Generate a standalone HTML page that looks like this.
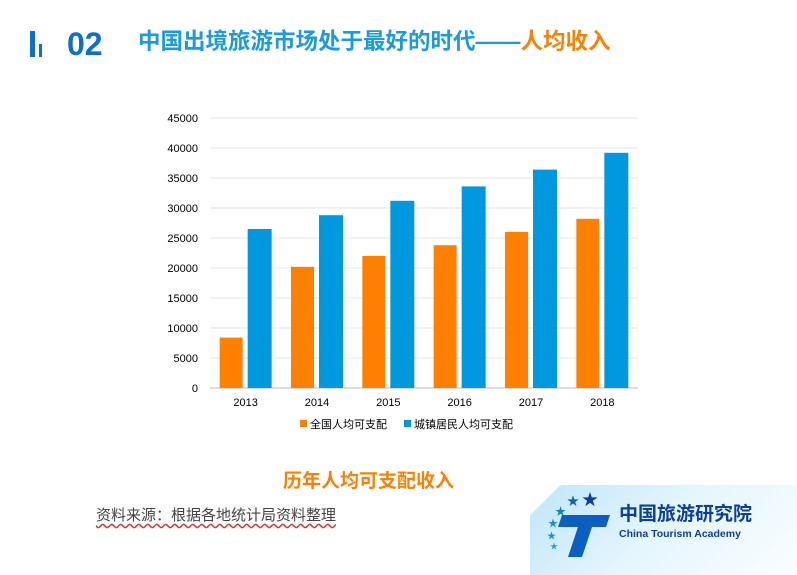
<!DOCTYPE html>
<html><head><meta charset="utf-8"><style>
body{margin:0;width:797px;height:575px;background:#fff;position:relative;overflow:hidden;font-family:"Liberation Sans","Noto Sans CJK SC",sans-serif}
.abs{position:absolute;line-height:1}
</style></head><body>
<div class="abs" style="left:30px;top:31px;width:5px;height:26px;background:#0a6fd0"></div>
<div class="abs" style="left:39px;top:44px;width:3px;height:13px;background:#0a6fd0"></div>
<div class="abs" style="left:67px;top:28px;font-size:32px;font-weight:bold;color:#0a6fd0">02</div>
<div class="abs" style="left:138px;top:31px;font-size:22.5px;font-weight:bold;color:#1a9be0;white-space:nowrap">中国出境旅游市场处于最好的时代——<span style="color:#ff8000">人均收入</span></div>
<svg class="abs" style="left:0;top:0" width="797" height="575">
<g id="grid"></g><g id="bars"></g><g id="labels"></g>
<rect x="300" y="420" width="7" height="7" fill="#ff8000"/>
<text x="310" y="428" font-size="11" fill="#000">全国人均可支配</text>
<rect x="404" y="420" width="7" height="7" fill="#0099e0"/>
<text x="414" y="428" font-size="11" fill="#000">城镇居民人均可支配</text>
</svg>
<div class="abs" style="left:283px;top:472px;font-size:19px;font-weight:bold;color:#ff8000">历年人均可支配收入</div>
<div class="abs" style="left:96px;top:508px;font-size:15px;color:#444;text-decoration:underline wavy #d33;text-underline-offset:3px">资料来源：根据各地统计局资料整理</div>
<div class="abs" style="left:530px;top:485px;width:267px;height:90px;background:linear-gradient(135deg,#fff 0%,#fff 8%,#c5e9f9 9%,#e6f6fd 50%,#fafdff 100%)"></div>
<svg class="abs" style="left:540px;top:485px" width="80" height="85">
<text x="42" y="20" font-size="16" fill="#0a3fa0">★</text><text x="27" y="20" font-size="12" fill="#1060c0">★</text><text x="15" y="30" font-size="11" fill="#1080d0">★</text><text x="8" y="42" font-size="10" fill="#1890e0">★</text><text x="7" y="54" font-size="9" fill="#1890e0">★</text><text x="10" y="64" font-size="8" fill="#20a0e0">★</text>
<path d="M22 30 L70 30 L66 42 L52 42 L42 72 L28 72 L38 42 L18 42 Z" fill="#0a5fc0"/>
</svg>
<div class="abs" style="left:619px;top:505px;font-size:19px;font-weight:bold;color:#0a3fa0">中国旅游研究院</div>
<div class="abs" style="left:619px;top:529px;font-size:10.5px;font-weight:bold;color:#0a3fa0">China Tourism Academy</div>
<script>
const years=["2013","2014","2015","2016","2017","2018"];
const national=[8400,20200,22000,23800,26000,28200];
const urban=[26500,28800,31200,33600,36400,39200];
const ticks=[0,5000,10000,15000,20000,25000,30000,35000,40000,45000];
const NS="http://www.w3.org/2000/svg";
const x0=210,x1=638,yb=388,yt=118,maxV=45000;
const y=v=>yb-(v/maxV)*(yb-yt);
const bw=(x1-x0)/years.length;
const g=document.getElementById('grid'),b=document.getElementById('bars'),l=document.getElementById('labels');
function mk(p,tag,a){const e=document.createElementNS(NS,tag);for(const k in a)e.setAttribute(k,a[k]);p.appendChild(e);return e;}
ticks.forEach(t=>{
 const ln=mk(g,'line',{x1:x0,x2:x1,y1:y(t),y2:y(t),stroke:t===0?'#bbb':'#e4e4e4','stroke-width':1});
 
 
 const tx=mk(l,'text',{x:x0-12,y:y(t)+4,'font-size':11,'text-anchor':'end',fill:'#000'});tx.textContent=t;
 
 
});
years.forEach((yr,i)=>{
 const cx=x0+bw*i+bw/2;
 const r1=mk(b,'rect',{x:cx-26,y:y(national[i]),width:23,height:yb-y(national[i]),fill:'#ff8000'});
 
 
 const r2=mk(b,'rect',{x:cx+2,y:y(urban[i]),width:24,height:yb-y(urban[i]),fill:'#0099e0'});
 
 
 const tx=mk(l,'text',{x:cx,y:yb+18,'font-size':11,'text-anchor':'middle',fill:'#000'});tx.textContent=yr;
 
 
});
</script>
</body></html>
